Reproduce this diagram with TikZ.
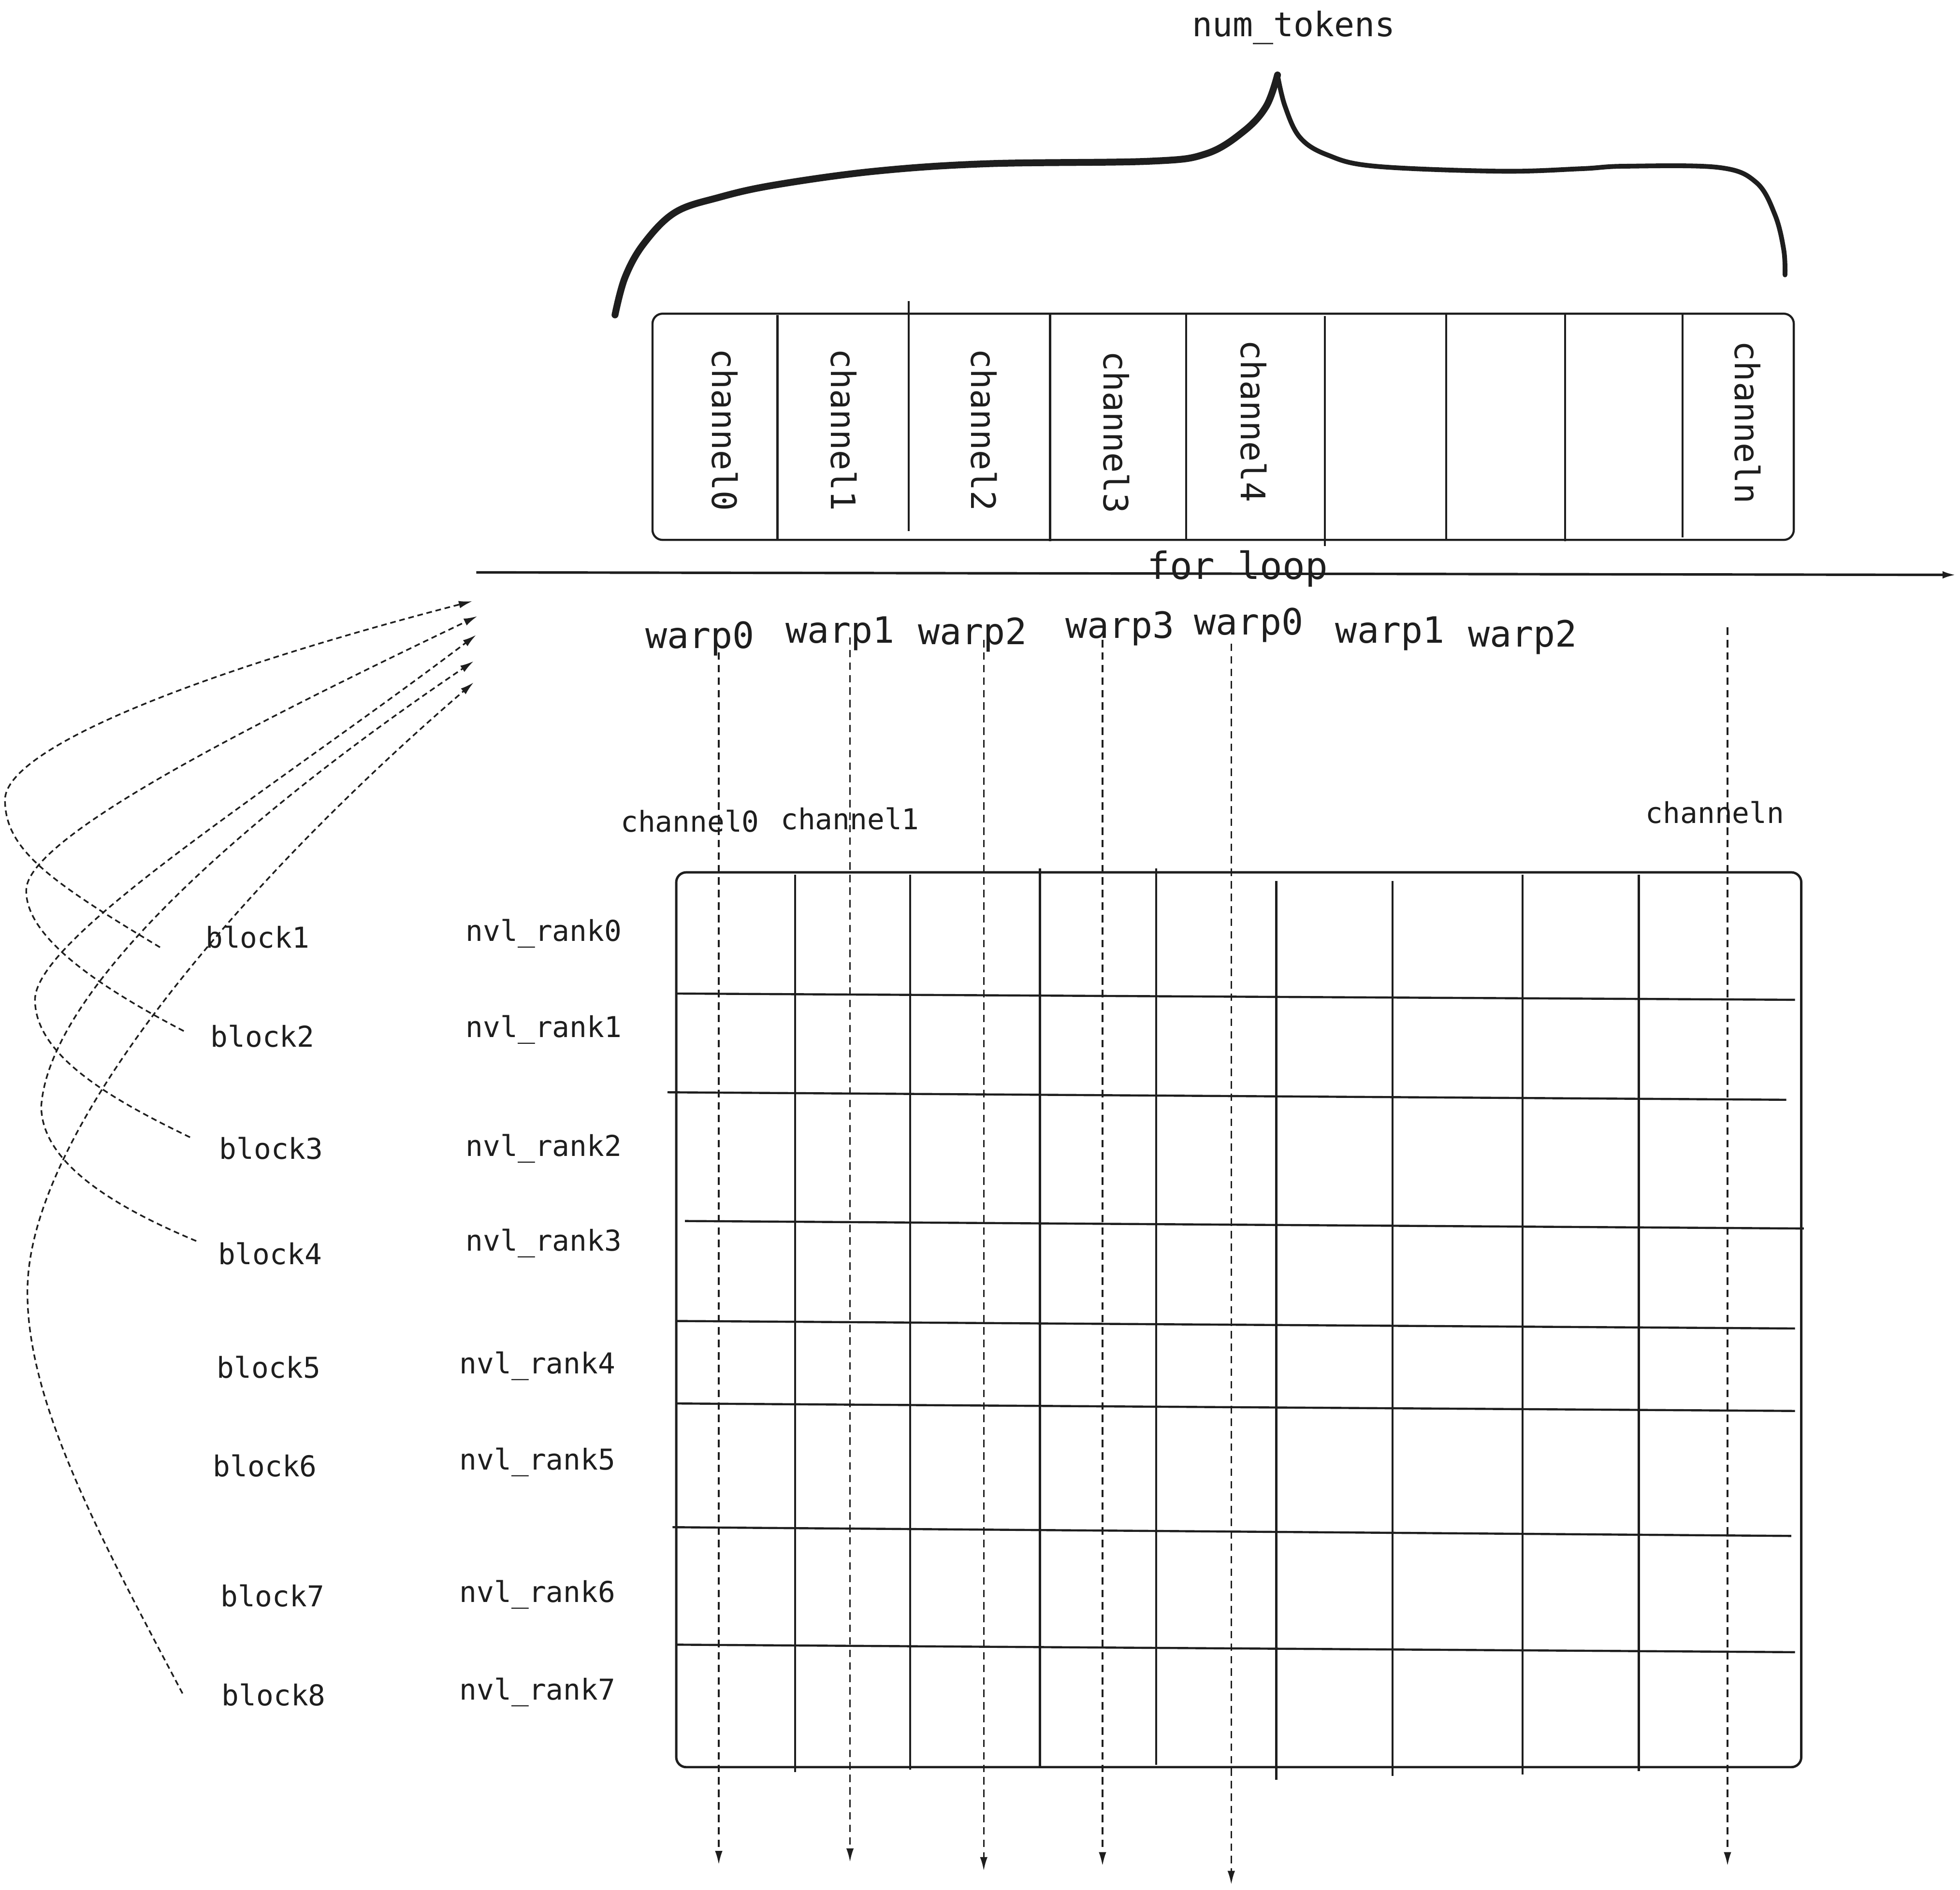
\documentclass[tikz,border=0pt]{standalone}
\usepackage{fontspec}
\setmainfont{DejaVu Sans Mono}
\usepackage{tikz}
\usetikzlibrary{arrows.meta}
\definecolor{ink}{HTML}{1E1E1E}

\begin{document}
\begin{tikzpicture}[x=1pt, y=-1pt, >={Latex[length=11pt,width=6pt]}, color=ink,
    every node/.style={text=ink, inner sep=0pt},
    lbl/.style={font=\fontsize{23}{23}\selectfont},
    bigtxt/.style={font=\fontsize{27}{27}\selectfont},
    warplbl/.style={font=\fontsize{29}{29}\selectfont},
    chanlbl/.style={font=\fontsize{27}{27}\selectfont, rotate=-90},
    thin/.style={line width=1.7pt},
    flow/.style={->, line width=1.3pt, dash pattern=on 6pt off 4pt},
    hop/.style={->, line width=1.3pt, dash pattern=on 4.5pt off 3pt}]
    \useasboundingbox (0,0) rectangle (1568,1512);

    % brace over the channels
    \draw[line width=5.5pt, line cap=round, line join=round] plot[smooth, tension=0.6] coordinates {(492,252) (500,222) (515,195) (540,170) (575,158) (620,148) (700,137) (790,131) (920,129) (965,123) (995,105) (1013,85) (1022,60)};
    \draw[line width=3.8pt, line cap=round, line join=round] plot[smooth, tension=0.6] coordinates {(1022,60) (1028,85) (1040,110) (1062,124) (1100,133) (1200,137) (1265,135) (1300,133) (1375,134) (1405,146) (1420,172) (1427,200) (1428,220)};
    \node[bigtxt] (tokens) at (1035,22) {num\_tokens};

    % channels of one token
    \draw[thin, rounded corners=8pt] (522,251) rectangle (1435,432);
    \foreach \x/\ya/\yb in {622/252/432, 727/241/425, 840/250/433, 949/250/432, 1060/253/437, 1157/250/431, 1252/250/433, 1346/250/430}
        \draw[thin] (\x,\ya) -- (\x,\yb);
    \foreach \x/\y/\t in {580/344/channel0, 675/344/channel1, 787/344/channel2, 893/346/channel3, 1003/337/channel4, 1398/338/channeln}
        \node[chanlbl] (box\t) at (\x,\y) {\t};

    % for loop
    \coordinate (loopL) at (381,458);
    \coordinate (loopR) at (1565,460);
    \draw[->, line width=2pt] (loopL) -- (loopR);
    \node[font=\fontsize{30}{30}\selectfont] (forloop) at (990,455) {for loop};

    \foreach \n/\x/\y/\t in {0/560/511/warp0, 1/672/507/warp1, 2/778/508/warp2, 3/896/503/warp3, 4/999/500/warp0, 5/1112/507/warp1, 6/1218/510/warp2}
        \node[warplbl] (warp\n) at (\x,\y) {\t};

    \foreach \x/\ya/\yb [count=\i] in {575/522/1492, 680/510/1490, 787/512/1497, 882/512/1493, 985/515/1508, 1382/502/1493} {
        \coordinate (top\i) at (\x,\ya);
        \coordinate (bot\i) at (\x,\yb);
        \draw[flow] (top\i) -- (bot\i);
    }

    \node[lbl] (col0) at (552,657) {channel0};
    \node[lbl] (col1) at (680,655) {channel1};
    \node[lbl] (coln) at (1372,650) {channeln};

    % ranks x channels
    \draw[line width=1.9pt, rounded corners=8pt] (541,698) rectangle (1441,1414);
    \foreach \x/\ya/\yb in {636/700/1418, 728/700/1416, 832/695/1414, 925/695/1412, 1021/705/1424, 1114/705/1421, 1218/700/1420, 1311/700/1417}
        \draw[thin] (\x,\ya) -- (\x,\yb);
    \foreach \xa/\ya/\xb/\yb in {541/795/1436/800, 534/874/1429/880, 548/977/1443/983, 541/1057/1436/1063, 541/1123/1436/1129, 538/1222/1433/1229, 541/1316/1436/1322}
        \draw[thin] (\xa,\ya) -- (\xb,\yb);

    \foreach \n/\x/\y in {0/435/747, 1/435/824, 2/435/919, 3/435/995, 4/430/1093, 5/430/1170, 6/430/1276, 7/430/1354}
        \node[lbl] (rank\n) at (\x,\y) {nvl\_rank\n};
    \foreach \n/\x/\y in {1/206/750, 2/210/829, 3/217/919, 4/216/1003, 5/215/1094, 6/212/1173, 7/218/1277, 8/219/1356}
        \node[lbl] (block\n) at (\x,\y) {block\n};

    % blocks back to the loop
    \coordinate (b1s) at (128,758);  \coordinate (b1e) at (378,481);
    \coordinate (b2s) at (147,825);  \coordinate (b2e) at (382,493);
    \coordinate (b3s) at (152,910);  \coordinate (b3e) at (381,508);
    \coordinate (b4s) at (157,993);  \coordinate (b4e) at (379,529);
    \coordinate (b8s) at (146,1355); \coordinate (b8e) at (379,546);
    \draw[hop] (b1s) .. controls (40,705) and (4,680) .. (4,640) .. controls (4,600) and (150,540) .. (b1e);
    \draw[hop] (b2s) .. controls (80,790) and (20,750) .. (21,712) .. controls (22,670) and (200,580) .. (b2e);
    \draw[hop] (b3s) .. controls (90,880) and (28,845) .. (28,800) .. controls (28,750) and (220,630) .. (b3e);
    \draw[hop] (b4s) .. controls (90,965) and (33,930) .. (33,885) .. controls (40,790) and (200,650) .. (b4e);
    \draw[hop] (b8s) .. controls (80,1230) and (20,1120) .. (22,1030) .. controls (25,900) and (200,700) .. (b8e);
\end{tikzpicture}
\end{document}
